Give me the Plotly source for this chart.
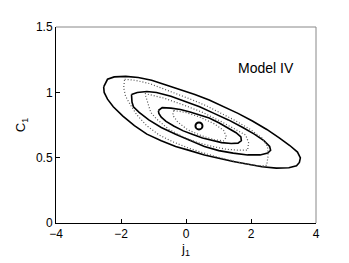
import plotly.graph_objects as go

# Solid contours (j1, C1)
outer_j = [-2.533, -2.415, -2.208, -1.854, -1.470, -1.057, -0.614, -0.171, 0.272, 0.714, 1.157, 1.600, 2.043, 2.486, 2.869, 3.194, 3.430, 3.519, 3.489, 3.401, 3.165, 2.781, 2.338, 1.895, 1.452, 1.010, 0.567, 0.124, -0.319, -0.762, -1.204, -1.588, -1.942, -2.238, -2.415, -2.518, -2.533]
outer_c = [1.042, 1.100, 1.118, 1.122, 1.114, 1.093, 1.056, 1.020, 0.984, 0.941, 0.890, 0.839, 0.781, 0.716, 0.651, 0.593, 0.543, 0.499, 0.463, 0.438, 0.423, 0.420, 0.431, 0.449, 0.470, 0.496, 0.521, 0.554, 0.586, 0.630, 0.680, 0.745, 0.818, 0.890, 0.948, 0.999, 1.042]

mid_j = [-1.677, -1.500, -1.204, -0.909, -0.466, -0.024, 0.419, 0.862, 1.305, 1.748, 2.102, 2.397, 2.574, 2.604, 2.515, 2.279, 1.895, 1.452, 1.010, 0.567, 0.124, -0.319, -0.762, -1.145, -1.441, -1.618, -1.662, -1.677]
mid_c = [0.984, 0.999, 1.006, 0.999, 0.970, 0.933, 0.890, 0.839, 0.789, 0.731, 0.680, 0.630, 0.586, 0.557, 0.535, 0.521, 0.521, 0.535, 0.554, 0.586, 0.630, 0.680, 0.731, 0.789, 0.847, 0.890, 0.926, 0.984]

inner_j = [-0.850, -0.732, -0.466, -0.171, 0.124, 0.419, 0.714, 1.010, 1.305, 1.541, 1.689, 1.703, 1.600, 1.393, 1.098, 0.803, 0.508, 0.213, -0.083, -0.378, -0.614, -0.762, -0.835, -0.850]
inner_c = [0.861, 0.883, 0.879, 0.868, 0.850, 0.829, 0.803, 0.767, 0.727, 0.691, 0.658, 0.630, 0.611, 0.608, 0.615, 0.633, 0.651, 0.677, 0.705, 0.742, 0.778, 0.810, 0.839, 0.861]

# Dotted contours
douter_j = [-1.888, -1.563, -1.120, -0.677, -0.234, 0.209, 0.652, 1.095, 1.537, 1.980, 2.334, 2.511, 2.526, 2.482, 2.216, 1.832, 1.389, 0.946, 0.503, 0.060, -0.383, -0.825, -1.209, -1.504, -1.711, -1.859, -1.918, -1.888]
douter_c = [1.100, 1.092, 1.067, 1.027, 0.984, 0.941, 0.894, 0.839, 0.781, 0.716, 0.651, 0.586, 0.514, 0.441, 0.438, 0.452, 0.478, 0.506, 0.539, 0.575, 0.619, 0.673, 0.745, 0.825, 0.904, 0.970, 1.035, 1.100]

dmid_j = [-1.263, -0.672, -0.082, 0.509, 1.099, 1.542, 1.837, 1.926, 1.896, 1.630, 1.246, 0.803, 0.361, -0.082, -0.525, -0.908, -1.086, -1.263]
dmid_c = [0.991, 0.955, 0.904, 0.847, 0.774, 0.716, 0.673, 0.615, 0.557, 0.557, 0.564, 0.586, 0.615, 0.658, 0.716, 0.796, 0.847, 0.991]

dinner_j = [-0.378, -0.024, 0.419, 0.862, 1.157, 1.246, 1.157, 0.862, 0.419, 0.036, -0.259, -0.407, -0.378]
dinner_c = [0.861, 0.847, 0.811, 0.760, 0.709, 0.658, 0.629, 0.637, 0.673, 0.716, 0.774, 0.825, 0.861]

best_j = [0.399]
best_c = [0.743]

x_ticks = [-4, -2, 0, 2, 4]
x_labels = ["\u22124", "\u22122", "0", "2", "4"]
y_ticks = [0, 0.5, 1, 1.5]
y_labels = ["0", "0.5", "1", "1.5"]

fig = go.Figure()
for xs, ys in [(outer_j, outer_c), (mid_j, mid_c), (inner_j, inner_c)]:
    fig.add_trace(go.Scatter(x=xs, y=ys, mode="lines",
                             line=dict(color="black", width=1.6), showlegend=False))
for xs, ys in [(douter_j, douter_c), (dmid_j, dmid_c), (dinner_j, dinner_c)]:
    fig.add_trace(go.Scatter(x=xs, y=ys, mode="lines",
                             line=dict(color="#555555", width=1.2, dash="1px,2px"), showlegend=False))
fig.add_trace(go.Scatter(x=best_j, y=best_c, mode="markers",
                         marker=dict(symbol="circle", size=7, color="white",
                                     line=dict(color="black", width=2)),
                         showlegend=False))

font = dict(family="Liberation Sans, Arial, sans-serif", size=12, color="black")
tfont = dict(family="Liberation Sans, Arial, sans-serif", size=13, color="black")
fig.update_layout(
    width=341, height=255,
    margin=dict(l=37, r=33, t=12, b=36),
    paper_bgcolor="white", plot_bgcolor="white",
    font=font,
    xaxis=dict(range=[-4, 4], tickvals=x_ticks, ticktext=x_labels,
               ticks="inside", ticklen=4, tickcolor="black", showline=True, linecolor="black",
               linewidth=1, showgrid=False, zeroline=False,
               title=dict(text="j<sub>1</sub>", standoff=0, font=tfont)),
    yaxis=dict(range=[0, 1.5], tickvals=y_ticks, ticktext=y_labels,
               ticks="inside", ticklen=4, tickcolor="black", showline=True, linecolor="black",
               linewidth=1, showgrid=False, zeroline=False,
               title=dict(text="C<sub>1</sub>", standoff=7, font=tfont)),
    shapes=[
        dict(type="line", xref="paper", yref="paper", x0=0, x1=1, y0=1, y1=1,
             line=dict(color="#888888", width=1)),
        dict(type="line", xref="paper", yref="paper", x0=1, x1=1, y0=0, y1=1,
             line=dict(color="#888888", width=1)),
    ],
    annotations=[dict(text="Model IV", x=1.54, y=1.19, xref="x", yref="y", xanchor="left",
                      yanchor="middle", showarrow=False,
                      font=dict(family="Liberation Sans, Arial, sans-serif", size=14, color="black"))],
)
fig.write_html("out.html")
